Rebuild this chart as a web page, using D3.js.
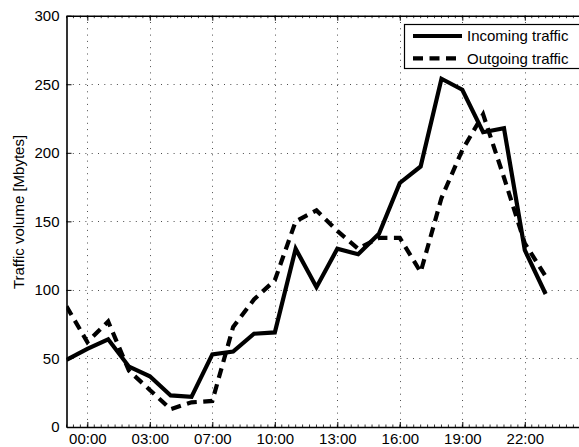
<!DOCTYPE html>
<html>
<head>
<meta charset="utf-8">
<script src="https://cdn.jsdelivr.net/npm/d3@7"></script>
<style>
  html, body { margin: 0; padding: 0; background: #fff; overflow: hidden; }
  svg { display: block; font-family: "Liberation Sans", Arial, Helvetica, sans-serif; }
</style>
</head>
<body>
<svg id="chart" width="579" height="447"></svg>
<script>
// ---- data ----
const hours = d3.range(0, 24); // sample index
const incoming = [49, 57, 64, 44, 37, 23, 22, 53, 55, 68, 69, 130, 102, 130, 126, 141, 178, 190, 254, 246, 215, 218, 129, 97];
const outgoing = [88, 62, 77, 41, 27, 13, 18, 19, 73, 93, 107, 150, 158, 143, 130, 138, 138, 113, 167, 202, 228, 182, 134, 110];
const xTickValues = [1, 4, 7, 10, 13, 16, 19, 22];
const xTickLabels = ["00:00", "03:00", "07:00", "10:00", "13:00", "16:00", "19:00", "22:00"];
const yTickValues = [0, 50, 100, 150, 200, 250, 300];
const seriesNames = ["Incoming traffic", "Outgoing traffic"];

// ---- layout ----
const svg = d3.select("#chart");
const pL = 66.5, pR = 587.3, pT = 15.7, pB = 427;
const x = d3.scaleLinear().domain([0, 25]).range([pL, pR]);
const y = d3.scaleLinear().domain([0, 300]).range([pB, pT]);
const FONT = 15;

svg.append("defs").append("clipPath").attr("id", "plotclip")
  .append("rect").attr("x", pL).attr("y", pT).attr("width", pR - pL).attr("height", pB - pT);

// grid
const grid = svg.append("g").attr("stroke", "#000").attr("stroke-width", 1)
  .attr("stroke-dasharray", "1,5.3").attr("stroke-opacity", 0.7);
grid.selectAll("line.gx").data(xTickValues).join("line")
  .attr("x1", d => Math.round(x(d)) + 0.5).attr("x2", d => Math.round(x(d)) + 0.5)
  .attr("y1", pT).attr("y2", pB);
grid.selectAll("line.gy").data(yTickValues.slice(1, -1)).join("line")
  .attr("x1", pL).attr("x2", pR)
  .attr("y1", d => Math.round(y(d)) + 0.5).attr("y2", d => Math.round(y(d)) + 0.5);

// axes (bottom, left, top)
const xAxis = d3.axisBottom(x).tickValues(xTickValues)
  .tickFormat((d, i) => xTickLabels[i]).tickSizeInner(-5).tickSizeOuter(0).tickPadding(0);
const gx = svg.append("g").attr("transform", `translate(0,${pB})`).call(xAxis);
gx.select(".domain").attr("stroke-width", 1.6);
gx.selectAll(".tick line").attr("stroke-width", 1);
gx.selectAll(".tick text").attr("y", 16.5).attr("dy", null)
  .attr("font-size", FONT).attr("font-family", "Liberation Sans, Arial, sans-serif").attr("fill", "#000");

const xTop = d3.axisTop(x).tickValues(xTickValues).tickFormat("").tickSizeInner(-5).tickSizeOuter(0);
const gxt = svg.append("g").attr("transform", `translate(0,${pT})`).call(xTop);
gxt.select(".domain").attr("stroke-width", 1.6);

// minor ticks
const minor = d3.range(0, 25.01, 1 / 3);
svg.append("g").attr("stroke", "#000").attr("stroke-width", 0.8)
  .selectAll("line").data(minor).join("line")
  .attr("x1", d => x(d)).attr("x2", d => x(d))
  .attr("y1", pB).attr("y2", pB - 2.5);
svg.append("g").attr("stroke", "#000").attr("stroke-width", 0.8)
  .selectAll("line").data(minor).join("line")
  .attr("x1", d => x(d)).attr("x2", d => x(d))
  .attr("y1", pT).attr("y2", pT + 2.5);

const yAxis = d3.axisLeft(y).tickValues(yTickValues).tickSizeInner(-5).tickSizeOuter(0).tickPadding(7);
const gy = svg.append("g").attr("transform", `translate(${pL},0)`).call(yAxis);
gy.select(".domain").attr("stroke-width", 1.6);
gy.selectAll(".tick text").attr("x", -7)
  .attr("font-size", FONT).attr("font-family", "Liberation Sans, Arial, sans-serif").attr("fill", "#000");

// y label
svg.append("text")
  .attr("transform", "translate(23.5,212) rotate(-90)")
  .attr("text-anchor", "middle").attr("font-size", FONT).attr("fill", "#000")
  .text("Traffic volume [Mbytes]");

// lines
const line = d3.line().x((d, i) => x(hours[i])).y(d => y(d));
const plot = svg.append("g").attr("clip-path", "url(#plotclip)");
plot.append("path").datum(outgoing).attr("d", line)
  .attr("fill", "none").attr("stroke", "#000").attr("stroke-width", 4.2)
  .attr("stroke-dasharray", "10,6.5").attr("stroke-linejoin", "miter");
plot.append("path").datum(incoming).attr("d", line)
  .attr("fill", "none").attr("stroke", "#000").attr("stroke-width", 4.2)
  .attr("stroke-linejoin", "miter");

// legend
const lg = svg.append("g");
lg.append("rect").attr("x", 404.5).attr("y", 24.5).attr("width", 200).attr("height", 44)
  .attr("fill", "#fff").attr("stroke", "#000").attr("stroke-width", 1.2);
const lrows = [{ name: seriesNames[0], dash: null, cy: 36 }, { name: seriesNames[1], dash: "10,6.5", cy: 58.3 }];
lrows.forEach(r => {
  lg.append("line").attr("x1", 413).attr("x2", 462).attr("y1", r.cy).attr("y2", r.cy)
    .attr("stroke", "#000").attr("stroke-width", 4.2).attr("stroke-dasharray", r.dash);
  lg.append("text").attr("x", 467).attr("y", r.cy + 5.4).attr("font-size", FONT).attr("fill", "#000").text(r.name);
});
</script>
</body>
</html>
